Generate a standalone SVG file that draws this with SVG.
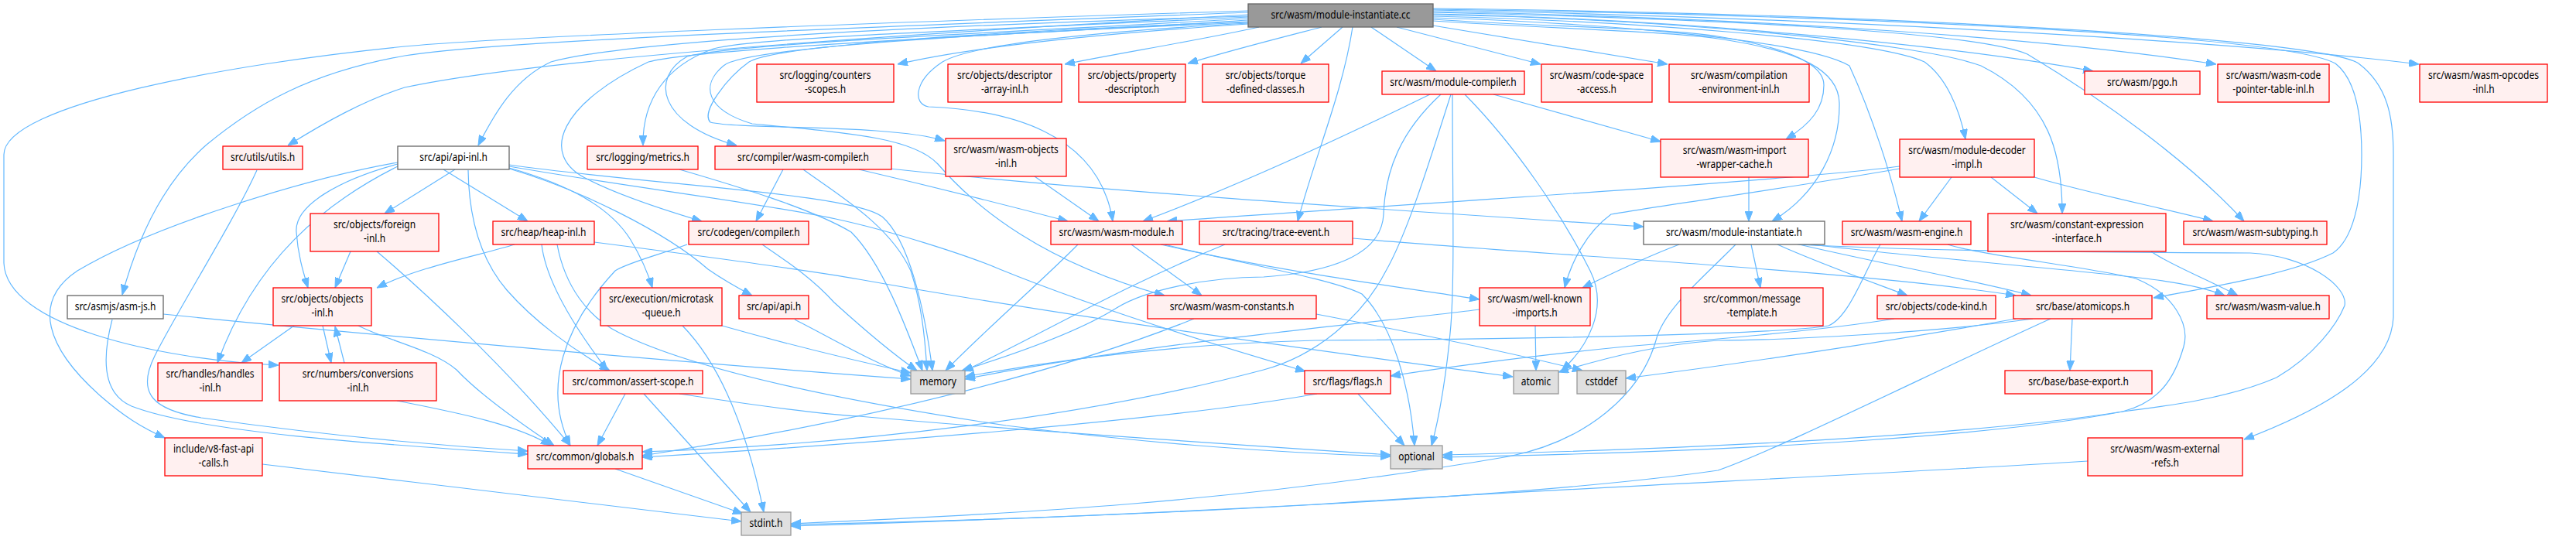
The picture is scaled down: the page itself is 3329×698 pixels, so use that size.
<svg xmlns="http://www.w3.org/2000/svg" width="3329" height="698" viewBox="0 0 3329 698">
<style>
.nd rect{fill:#fff0f0;stroke:#ff0000;stroke-width:1.3}
.wh rect{fill:#ffffff;stroke:#666666;stroke-width:1.3}
.sy rect{fill:#e0e0e0;stroke:#999999;stroke-width:1.3}
.rt rect{fill:#999999;stroke:#666666;stroke-width:1.3}
text{font-family:"Noto Sans","DejaVu Sans",sans-serif;font-size:15px;fill:#000;text-anchor:middle}
#edges path{fill:none;stroke:#63b8ff;stroke-width:1.2;marker-end:url(#ah)}
</style>
<defs>
<marker id="ah" viewBox="0 0 13 10" refX="13" refY="5" markerWidth="13" markerHeight="10" markerUnits="userSpaceOnUse" orient="auto">
<path d="M0,0 L13,5 L0,10 z" fill="#63b8ff" stroke="#63b8ff" stroke-width="1"/>
</marker>
</defs>
<rect width="3329" height="698" fill="#ffffff"/>
<g id="edges">
<path d="M1613,14 C1100,30 650,48 523,60 C300,82 5,135 5,200 L5,340 C8,420 200,464 360,472"/>
<path d="M1613,16 C1100,36 650,52 523,72 C400,94 330,135 267,187 C215,232 180,300 158,381"/>
<path d="M1613,19 C1150,45 700,75 523,113 C470,130 420,158 372,188"/>
<path d="M1613,21 C1100,36 800,56 712,80 C665,102 640,145 618,188"/>
<path d="M1613,22 C1250,40 980,48 922,63 C860,85 830,130 831,188"/>
<path d="M1613,24 C1300,42 950,56 888,73 C840,100 850,160 952,188"/>
<path d="M1613,26 C1300,46 900,62 838,80 C730,130 690,200 762,233 C800,252 860,272 907,286"/>
<path d="M1613,28 C1250,42 1000,60 968,80 C940,100 905,145 918,158 C960,168 1150,160 1221,182"/>
<path d="M1613,29 C1250,44 960,62 935,85 C905,110 912,142 972,160 C1100,172 1180,178 1212,212 C1262,270 1350,340 1505,382"/>
<path d="M1613,31 C1400,45 1250,62 1160,83"/>
<path d="M1627,35 C1550,52 1450,68 1376,83"/>
<path d="M1708,35 C1650,50 1590,65 1535,82"/>
<path d="M1735,35 L1681,82"/>
<path d="M1772,35 L1856,92"/>
<path d="M1805,35 L1991,83"/>
<path d="M1852,33 L2155,83"/>
<path d="M1748,35 C1735,120 1700,200 1677,286"/>
<path d="M1613,30 C1400,42 1255,58 1218,80 C1180,105 1180,135 1200,138 C1300,142 1420,170 1438,286"/>
<path d="M1852,25 C2000,35 2150,36 2220,47 C2300,60 2357,80 2357,110 C2357,140 2340,160 2308,180"/>
<path d="M1852,27 C2000,37 2150,40 2220,50 C2330,66 2376,92 2377,133 C2378,190 2350,250 2290,286"/>
<path d="M1852,23 C2050,29 2330,50 2390,85 C2420,150 2445,230 2458,286"/>
<path d="M1852,21 C2100,27 2420,50 2487,80 C2515,100 2532,140 2540,180"/>
<path d="M1852,19 C2150,24 2480,55 2560,85 C2650,130 2665,200 2665,276"/>
<path d="M1852,18 C2150,24 2500,55 2705,92"/>
<path d="M1852,16 C2200,24 2550,40 2620,70 C2720,130 2830,210 2900,286"/>
<path d="M1852,15 C2300,24 2650,50 2864,83"/>
<path d="M1852,13 C2400,24 2900,55 3126,83"/>
<path d="M1852,12 C2400,20 2950,45 3018,82 C3048,105 3052,160 3052,200 C3052,262 3040,310 3015,327 C2960,355 2850,372 2783,385"/>
<path d="M1852,11 C2450,18 3000,50 3048,82 C3085,110 3093,150 3093,200 L3093,410 C3090,480 3000,530 2900,568"/>
<path d="M588,219 L497,276"/>
<path d="M514,212 C440,232 380,265 383,300 C385,330 392,352 398,372"/>
<path d="M514,215 C420,262 330,335 281,469"/>
<path d="M514,210 C400,230 200,290 100,350 C40,390 60,450 130,512 C160,538 182,552 213,566"/>
<path d="M573,219 L682,286"/>
<path d="M605,220 C606,290 625,340 655,375 C690,415 740,452 788,479"/>
<path d="M658,217 C740,240 790,270 815,310 C830,335 838,355 843,372"/>
<path d="M658,218 C750,245 860,300 915,348 C935,362 955,373 972,382"/>
<path d="M658,213 C850,240 1100,250 1140,280 C1175,310 1195,400 1205,479"/>
<path d="M658,215 C800,240 1000,265 1080,283 C1150,298 1250,330 1292,348 C1400,392 1550,440 1687,480"/>
<path d="M665,316 C620,330 540,345 487,372"/>
<path d="M700,316 C705,360 740,420 785,479"/>
<path d="M768,313 C900,330 1050,350 1110,361 C1300,395 1600,440 1955,487"/>
<path d="M720,316 C730,370 760,410 800,430 C900,480 1100,520 1300,550 C1500,575 1650,585 1797,590"/>
<path d="M453,325 L433,372"/>
<path d="M487,325 C540,370 650,470 737,576"/>
<path d="M380,421 L312,469"/>
<path d="M417,421 L428,469"/>
<path d="M463,421 C500,440 560,452 590,478 C620,510 680,552 716,576"/>
<path d="M445,469 L433,422"/>
<path d="M513,518 C600,535 670,550 712,576"/>
<path d="M211,406 C500,435 900,470 1177,490"/>
<path d="M145,413 C130,470 135,510 170,525 C260,560 500,575 682,587"/>
<path d="M332,220 C300,290 230,400 200,460 C175,510 200,530 260,540 C400,560 550,575 682,583"/>
<path d="M339,600 C550,625 800,655 958,674"/>
<path d="M795,606 L960,664"/>
<path d="M808,509 L772,576"/>
<path d="M832,509 L970,662"/>
<path d="M878,509 C950,520 1050,535 1110,538 C1300,555 1600,575 1797,588"/>
<path d="M882,421 C920,460 960,530 987,662"/>
<path d="M933,421 C1000,440 1100,465 1177,482"/>
<path d="M1027,413 C1080,440 1130,470 1177,486"/>
<path d="M888,316 C850,330 810,340 795,350 C730,420 700,500 737,576"/>
<path d="M985,316 C1020,340 1050,360 1078,391 C1110,420 1150,455 1185,479"/>
<path d="M878,219 C950,240 1050,270 1100,300 C1140,340 1170,420 1192,479"/>
<path d="M1012,219 L977,286"/>
<path d="M1038,219 C1080,250 1150,290 1177,350 C1190,390 1195,430 1198,479"/>
<path d="M1110,219 C1200,240 1300,265 1380,286"/>
<path d="M1150,218 C1400,245 1700,265 2124,293"/>
<path d="M1337,228 L1420,286"/>
<path d="M1393,316 C1350,360 1280,420 1222,479"/>
<path d="M1462,316 L1553,382"/>
<path d="M1500,316 C1650,350 1800,370 1912,387"/>
<path d="M1505,316 C1600,340 1720,360 1760,380 C1800,420 1822,500 1828,576"/>
<path d="M1583,316 C1450,370 1350,430 1245,480"/>
<path d="M1748,308 C2000,330 2400,350 2605,382"/>
<path d="M1543,412 C1400,470 1150,540 830,589"/>
<path d="M1701,406 C1800,425 1950,455 2045,479"/>
<path d="M1848,122 C1750,170 1600,240 1477,286"/>
<path d="M1862,122 C1810,170 1790,220 1788,277 C1786,320 1740,350 1633,358 C1560,358 1480,375 1443,398 C1400,425 1330,452 1243,479"/>
<path d="M1875,122 C1850,200 1820,300 1790,352 C1760,410 1700,460 1633,478 C1400,540 1100,575 830,584"/>
<path d="M1877,122 C1877,250 1880,350 1875,420 C1870,480 1860,540 1850,576"/>
<path d="M1893,122 C1960,190 2020,280 2055,350 C2080,400 2050,450 2018,479"/>
<path d="M1930,122 L2146,183"/>
<path d="M1755,509 L1815,576"/>
<path d="M1702,509 C1500,545 1100,575 830,591"/>
<path d="M1912,400 C1800,415 1500,440 1247,490"/>
<path d="M1984,421 L1985,479"/>
<path d="M2260,229 L2260,286"/>
<path d="M2455,215 C2300,235 1800,265 1508,286"/>
<path d="M2455,218 C2300,245 2150,265 2082,277 C2050,300 2030,340 2022,372"/>
<path d="M2522,229 L2480,286"/>
<path d="M2573,229 L2633,276"/>
<path d="M2629,229 C2700,250 2800,270 2860,286"/>
<path d="M2263,316 L2275,372"/>
<path d="M2297,316 C2350,340 2420,365 2465,382"/>
<path d="M2325,316 C2450,345 2550,362 2625,382"/>
<path d="M2170,316 C2120,335 2080,355 2045,372"/>
<path d="M2243,316 C2200,360 2150,400 2140,440 C2120,510 2050,570 1950,590 C1600,650 1300,665 1022,677"/>
<path d="M2323,316 C2500,325 2700,326 2908,327 C2980,330 3035,370 3030,395 C3020,420 2990,460 2942,488 C2880,515 2800,525 2743,532 C2600,555 2300,578 1864,588"/>
<path d="M2340,316 C2500,335 2700,350 2780,361 C2820,366 2850,372 2875,382"/>
<path d="M2430,316 C2410,350 2390,410 2363,421 C2300,432 2000,438 1700,440 C1500,445 1350,468 1247,487"/>
<path d="M2517,316 C2560,330 2700,345 2760,360 C2810,380 2830,420 2822,448 C2810,490 2790,520 2743,532 C2600,560 2300,583 1864,591"/>
<path d="M2780,325 C2800,340 2850,360 2892,382"/>
<path d="M2448,412 C2350,428 2200,440 2100,448 C2000,458 1900,470 1797,486"/>
<path d="M2678,412 L2675,479"/>
<path d="M2627,412 C2500,430 2300,440 2220,440 C2150,445 2090,458 2014,481"/>
<path d="M2605,412 C2450,440 2250,470 2101,489"/>
<path d="M2650,412 C2500,480 2300,580 2220,608 C2000,640 1500,668 1022,678"/>
<path d="M2698,596 C2400,615 2000,632 1700,652 C1400,668 1200,675 1022,680"/>
</g>
<g id="n_root" class="rt"><rect x="1613" y="5" width="239" height="30"/><text transform="translate(1732.5,24) scale(0.8,1)">src/wasm/module-instantiate.cc</text></g>
<g id="n_counters" class="nd"><rect x="978" y="83" width="177" height="49"/><text transform="translate(1066.5,101.5) scale(0.8,1)">src/logging/counters</text><text transform="translate(1066.5,120) scale(0.8,1)">-scopes.h</text></g>
<g id="n_descarr" class="nd"><rect x="1225" y="83" width="147" height="49"/><text transform="translate(1298.5,101.5) scale(0.8,1)">src/objects/descriptor</text><text transform="translate(1298.5,120) scale(0.8,1)">-array-inl.h</text></g>
<g id="n_propdesc" class="nd"><rect x="1394" y="83" width="138" height="49"/><text transform="translate(1463,101.5) scale(0.8,1)">src/objects/property</text><text transform="translate(1463,120) scale(0.8,1)">-descriptor.h</text></g>
<g id="n_torque" class="nd"><rect x="1554" y="83" width="163" height="49"/><text transform="translate(1635.5,101.5) scale(0.8,1)">src/objects/torque</text><text transform="translate(1635.5,120) scale(0.8,1)">-defined-classes.h</text></g>
<g id="n_modcomp" class="nd"><rect x="1786" y="92" width="184" height="30"/><text transform="translate(1878,111) scale(0.8,1)">src/wasm/module-compiler.h</text></g>
<g id="n_codespace" class="nd"><rect x="1992" y="83" width="143" height="49"/><text transform="translate(2063.5,101.5) scale(0.8,1)">src/wasm/code-space</text><text transform="translate(2063.5,120) scale(0.8,1)">-access.h</text></g>
<g id="n_compenv" class="nd"><rect x="2157" y="83" width="181" height="49"/><text transform="translate(2247.5,101.5) scale(0.8,1)">src/wasm/compilation</text><text transform="translate(2247.5,120) scale(0.8,1)">-environment-inl.h</text></g>
<g id="n_pgo" class="nd"><rect x="2694" y="92" width="149" height="30"/><text transform="translate(2768.5,111) scale(0.8,1)">src/wasm/pgo.h</text></g>
<g id="n_cpt" class="nd"><rect x="2866" y="83" width="144" height="49"/><text transform="translate(2938,101.5) scale(0.8,1)">src/wasm/wasm-code</text><text transform="translate(2938,120) scale(0.8,1)">-pointer-table-inl.h</text></g>
<g id="n_opcodes" class="nd"><rect x="3127" y="83" width="165" height="49"/><text transform="translate(3209.5,101.5) scale(0.8,1)">src/wasm/wasm-opcodes</text><text transform="translate(3209.5,120) scale(0.8,1)">-inl.h</text></g>
<g id="n_utils" class="nd"><rect x="288" y="189" width="103" height="30"/><text transform="translate(339.5,208) scale(0.8,1)">src/utils/utils.h</text></g>
<g id="n_apiinl" class="wh"><rect x="514" y="189" width="144" height="30"/><text transform="translate(586,208) scale(0.8,1)">src/api/api-inl.h</text></g>
<g id="n_metrics" class="nd"><rect x="759" y="189" width="143" height="30"/><text transform="translate(830.5,208) scale(0.8,1)">src/logging/metrics.h</text></g>
<g id="n_wasmcompiler" class="nd"><rect x="924" y="189" width="228" height="30"/><text transform="translate(1038,208) scale(0.8,1)">src/compiler/wasm-compiler.h</text></g>
<g id="n_wasmobj" class="nd"><rect x="1222" y="179" width="156" height="49"/><text transform="translate(1300,197.5) scale(0.8,1)">src/wasm/wasm-objects</text><text transform="translate(1300,216) scale(0.8,1)">-inl.h</text></g>
<g id="n_iwc" class="nd"><rect x="2146" y="180" width="191" height="49"/><text transform="translate(2241.5,198.5) scale(0.8,1)">src/wasm/wasm-import</text><text transform="translate(2241.5,217) scale(0.8,1)">-wrapper-cache.h</text></g>
<g id="n_mdi" class="nd"><rect x="2455" y="180" width="174" height="49"/><text transform="translate(2542,198.5) scale(0.8,1)">src/wasm/module-decoder</text><text transform="translate(2542,217) scale(0.8,1)">-impl.h</text></g>
<g id="n_foreign" class="nd"><rect x="401" y="276" width="166" height="49"/><text transform="translate(484,294.5) scale(0.8,1)">src/objects/foreign</text><text transform="translate(484,313) scale(0.8,1)">-inl.h</text></g>
<g id="n_heapinl" class="nd"><rect x="637" y="286" width="131" height="30"/><text transform="translate(702.5,305) scale(0.8,1)">src/heap/heap-inl.h</text></g>
<g id="n_compiler" class="nd"><rect x="890" y="286" width="155" height="30"/><text transform="translate(967.5,305) scale(0.8,1)">src/codegen/compiler.h</text></g>
<g id="n_wasmmodule" class="nd"><rect x="1358" y="286" width="170" height="30"/><text transform="translate(1443,305) scale(0.8,1)">src/wasm/wasm-module.h</text></g>
<g id="n_trace" class="nd"><rect x="1550" y="286" width="198" height="30"/><text transform="translate(1649,305) scale(0.8,1)">src/tracing/trace-event.h</text></g>
<g id="n_mih" class="wh"><rect x="2124" y="286" width="234" height="30"/><text transform="translate(2241,305) scale(0.8,1)">src/wasm/module-instantiate.h</text></g>
<g id="n_engine" class="nd"><rect x="2381" y="286" width="166" height="30"/><text transform="translate(2464,305) scale(0.8,1)">src/wasm/wasm-engine.h</text></g>
<g id="n_cei" class="nd"><rect x="2569" y="276" width="230" height="49"/><text transform="translate(2684,294.5) scale(0.8,1)">src/wasm/constant-expression</text><text transform="translate(2684,313) scale(0.8,1)">-interface.h</text></g>
<g id="n_subtyping" class="nd"><rect x="2822" y="286" width="185" height="30"/><text transform="translate(2914.5,305) scale(0.8,1)">src/wasm/wasm-subtyping.h</text></g>
<g id="n_asmjs" class="wh"><rect x="87" y="382" width="124" height="30"/><text transform="translate(149,401) scale(0.8,1)">src/asmjs/asm-js.h</text></g>
<g id="n_objinl" class="nd"><rect x="353" y="372" width="127" height="49"/><text transform="translate(416.5,390.5) scale(0.8,1)">src/objects/objects</text><text transform="translate(416.5,409) scale(0.8,1)">-inl.h</text></g>
<g id="n_microtask" class="nd"><rect x="776" y="372" width="157" height="49"/><text transform="translate(854.5,390.5) scale(0.8,1)">src/execution/microtask</text><text transform="translate(854.5,409) scale(0.8,1)">-queue.h</text></g>
<g id="n_api" class="nd"><rect x="955" y="382" width="90" height="30"/><text transform="translate(1000,401) scale(0.8,1)">src/api/api.h</text></g>
<g id="n_consts" class="nd"><rect x="1483" y="382" width="218" height="30"/><text transform="translate(1592,401) scale(0.8,1)">src/wasm/wasm-constants.h</text></g>
<g id="n_wki" class="nd"><rect x="1912" y="372" width="143" height="49"/><text transform="translate(1983.5,390.5) scale(0.8,1)">src/wasm/well-known</text><text transform="translate(1983.5,409) scale(0.8,1)">-imports.h</text></g>
<g id="n_msgtpl" class="nd"><rect x="2172" y="372" width="184" height="49"/><text transform="translate(2264,390.5) scale(0.8,1)">src/common/message</text><text transform="translate(2264,409) scale(0.8,1)">-template.h</text></g>
<g id="n_codekind" class="nd"><rect x="2426" y="382" width="153" height="30"/><text transform="translate(2502.5,401) scale(0.8,1)">src/objects/code-kind.h</text></g>
<g id="n_atomicops" class="nd"><rect x="2602" y="382" width="179" height="30"/><text transform="translate(2691.5,401) scale(0.8,1)">src/base/atomicops.h</text></g>
<g id="n_wasmvalue" class="nd"><rect x="2852" y="382" width="158" height="30"/><text transform="translate(2931,401) scale(0.8,1)">src/wasm/wasm-value.h</text></g>
<g id="n_handles" class="nd"><rect x="204" y="469" width="135" height="49"/><text transform="translate(271.5,487.5) scale(0.8,1)">src/handles/handles</text><text transform="translate(271.5,506) scale(0.8,1)">-inl.h</text></g>
<g id="n_conv" class="nd"><rect x="361" y="469" width="203" height="49"/><text transform="translate(462.5,487.5) scale(0.8,1)">src/numbers/conversions</text><text transform="translate(462.5,506) scale(0.8,1)">-inl.h</text></g>
<g id="n_memory" class="sy"><rect x="1177" y="479" width="70" height="30"/><text transform="translate(1212,498) scale(0.8,1)">memory</text></g>
<g id="n_assert" class="nd"><rect x="728" y="479" width="180" height="30"/><text transform="translate(818,498) scale(0.8,1)">src/common/assert-scope.h</text></g>
<g id="n_flags" class="nd"><rect x="1686" y="479" width="111" height="30"/><text transform="translate(1741.5,498) scale(0.8,1)">src/flags/flags.h</text></g>
<g id="n_atomic" class="sy"><rect x="1956" y="479" width="58" height="30"/><text transform="translate(1985,498) scale(0.8,1)">atomic</text></g>
<g id="n_cstddef" class="sy"><rect x="2038" y="479" width="63" height="30"/><text transform="translate(2069.5,498) scale(0.8,1)">cstddef</text></g>
<g id="n_baseexport" class="nd"><rect x="2591" y="479" width="190" height="30"/><text transform="translate(2686,498) scale(0.8,1)">src/base/base-export.h</text></g>
<g id="n_fastapi" class="nd"><rect x="213" y="566" width="126" height="49"/><text transform="translate(276,584.5) scale(0.8,1)">include/v8-fast-api</text><text transform="translate(276,603) scale(0.8,1)">-calls.h</text></g>
<g id="n_globals" class="nd"><rect x="682" y="576" width="148" height="30"/><text transform="translate(756,595) scale(0.8,1)">src/common/globals.h</text></g>
<g id="n_optional" class="sy"><rect x="1797" y="576" width="67" height="30"/><text transform="translate(1830.5,595) scale(0.8,1)">optional</text></g>
<g id="n_extrefs" class="nd"><rect x="2698" y="566" width="200" height="49"/><text transform="translate(2798,584.5) scale(0.8,1)">src/wasm/wasm-external</text><text transform="translate(2798,603) scale(0.8,1)">-refs.h</text></g>
<g id="n_stdint" class="sy"><rect x="958" y="662" width="64" height="30"/><text transform="translate(990,681) scale(0.8,1)">stdint.h</text></g>
</svg>
